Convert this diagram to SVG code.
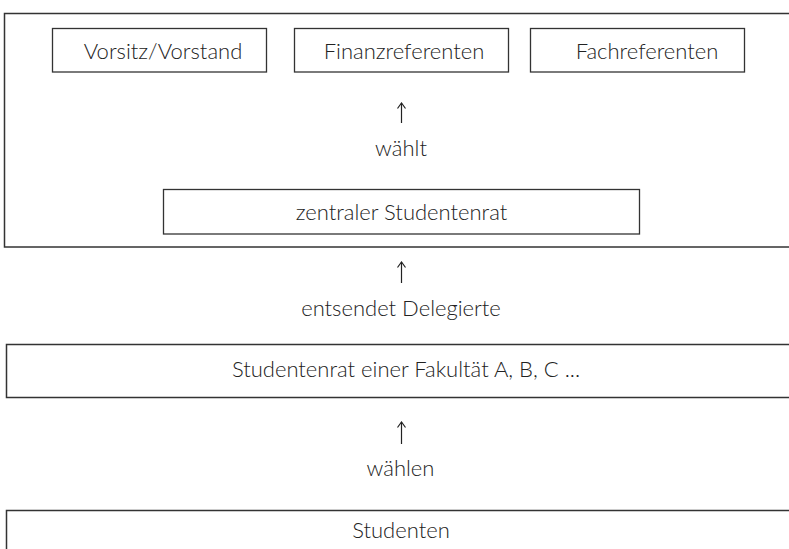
<svg xmlns="http://www.w3.org/2000/svg" width="789" height="549" viewBox="0 0 789 549">
<style>
.box{fill:#fff;stroke:#333;stroke-width:1.3}
.frame{fill:none;stroke:#333;stroke-width:1.5}
.t{font-family:Lato,"Noto Sans",sans-serif;font-weight:300;font-size:22px;fill:#222;text-anchor:middle}
.c{fill:none;stroke:#222;stroke-width:1.2}
</style>
<defs>
<marker id="ah" viewBox="0 0 10 10" refX="9" refY="5" markerWidth="10" markerHeight="10" markerUnits="userSpaceOnUse" orient="auto">
<path d="M3.5,1 L9,5 L3.5,9" fill="none" stroke="#222" stroke-width="1.2"/>
</marker>
</defs>
<rect x="0" y="0" width="789" height="549" fill="#fff"/>
<g id="gremium">
<rect class="frame" x="4.5" y="13.5" width="800" height="233.5"/>
</g>
<g id="vorsitz">
<rect class="box" x="52.5" y="28.5" width="214" height="43.5"/>
<text class="t" x="163" y="59">Vorsitz/Vorstand</text>
</g>
<g id="finanz">
<rect class="box" x="294.5" y="28.5" width="214" height="43.5"/>
<text class="t" x="404" y="59">Finanzreferenten</text>
</g>
<g id="fach">
<rect class="box" x="530.5" y="28.5" width="214" height="43.5"/>
<text class="t" x="647" y="59">Fachreferenten</text>
</g>
<g id="zentral">
<rect class="box" x="163.5" y="189.5" width="476" height="44.5"/>
<text class="t" x="401.5" y="220">zentraler Studentenrat</text>
</g>
<g id="fakultaet">
<rect class="frame" x="6.5" y="344.5" width="800" height="53"/>
<text class="t" x="406" y="377">Studentenrat einer Fakultät A, B, C ...</text>
</g>
<g id="studenten">
<rect class="frame" x="6.5" y="510.5" width="800" height="60"/>
<text class="t" x="401" y="538">Studenten</text>
</g>
<g id="connectors">
<line class="c" x1="401.5" y1="123" x2="401.5" y2="103" marker-end="url(#ah)"/>
<line class="c" x1="401.5" y1="283" x2="401.5" y2="262" marker-end="url(#ah)"/>
<line class="c" x1="401.5" y1="444" x2="401.5" y2="422" marker-end="url(#ah)"/>
<text class="t" x="401" y="156">wählt</text>
<text class="t" x="401" y="316">entsendet Delegierte</text>
<text class="t" x="400.5" y="476">wählen</text>
</g>
</svg>
